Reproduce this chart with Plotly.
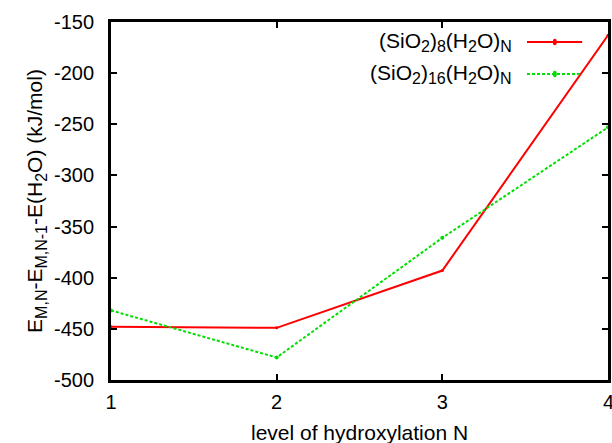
import plotly.graph_objects as go

n_levels = [1, 2, 3, 4]
si8 = [-448, -449, -393, -163]
si16 = [-432, -478, -361, -253]


def sub(t):
    return "<sub><span style='font-size:16px'>" + t + "</span></sub>"


series_names = ["(SiO" + sub("2") + ")" + sub("8") + "(H" + sub("2") + "O)" + sub("N"),
                "(SiO" + sub("2") + ")" + sub("16") + "(H" + sub("2") + "O)" + sub("N")]
x_ticks = [1, 2, 3, 4]
y_ticks = [-500, -450, -400, -350, -300, -250, -200, -150]
y_ticktext = ["-500", "-450", "-400", "-350", "-300", "-250", "-200", "-150"]
y_title = "E" + sub("M,N") + "-E" + sub("M,N-1") + "-E(H" + sub("2") + "O) (kJ/mol)"

font = dict(family="Liberation Sans, Arial, sans-serif", size=20, color="black")
font21 = dict(family="Liberation Sans, Arial, sans-serif", size=21, color="black")

fig = go.Figure()
fig.add_trace(go.Scatter(x=n_levels, y=si8, mode="lines+markers", name="Si8",
                         line=dict(color="#ff0000", width=2), marker=dict(size=3, color="#ff0000"),
                         showlegend=False, cliponaxis=False))
fig.add_trace(go.Scatter(x=n_levels, y=si16, mode="lines+markers", name="Si16",
                         line=dict(color="#00e000", width=2, dash="3px,2px"),
                         marker=dict(size=4, color="#00e000"),
                         showlegend=False, cliponaxis=False))

# legend (gnuplot style: text right-aligned, sample on right)
legend_rows = [(0.944, "#ff0000", "solid"), (0.855, "#00e000", "3px,2px")]
for (yy, col, dash), nm in zip(legend_rows, series_names):
    fig.add_annotation(x=0.81, y=yy, xref="paper", yref="paper", text=nm, showarrow=False,
                       xanchor="right", yanchor="middle", font=font21)
    fig.add_shape(type="line", xref="paper", yref="paper", x0=0.837, x1=0.948, y0=yy, y1=yy,
                  line=dict(color=col, width=2, dash=dash))
    fig.add_shape(type="circle", xref="paper", yref="paper", x0=0.889, x1=0.897,
                  y0=yy - 0.009, y1=yy + 0.009, fillcolor=col, line=dict(color=col, width=0))

# x-axis title
fig.add_annotation(x=0.5, y=0, xref="paper", yref="paper", yshift=-52,
                   text="level of hydroxylation N", showarrow=False,
                   xanchor="center", yanchor="middle", font=font21)

# last x tick label, partly cut by the page edge as in the reference
fig.add_annotation(x=x_ticks[-1], y=0, xref="x", yref="paper", yshift=-9,
                   text=str(x_ticks[-1]), showarrow=False,
                   xanchor="center", yanchor="top", font=font)

fig.update_layout(
    width=612, height=443,
    margin=dict(l=111, r=4, t=22, b=63),
    paper_bgcolor="white", plot_bgcolor="white",
    font=font,
    xaxis=dict(range=[1, 4], tickvals=x_ticks, ticks="inside", ticklen=6, tickwidth=1.5,
               tickcolor="black", mirror="ticks", showline=True, linecolor="black", linewidth=3,
               showgrid=False, zeroline=False, ticklabelstandoff=2, automargin=False),
    yaxis=dict(range=[-500, -150], tickvals=y_ticks, ticktext=y_ticktext, ticks="inside",
               ticklen=6, tickwidth=1.5, ticklabelstandoff=10, automargin=False,
               tickcolor="black", mirror="ticks", showline=True, linecolor="black", linewidth=3,
               showgrid=False, zeroline=False,
               title=dict(text=y_title, font=font21, standoff=6)),
)

fig.write_html("out.html", config={"displayModeBar": False},
               post_script="document.body.style.margin='0';")
